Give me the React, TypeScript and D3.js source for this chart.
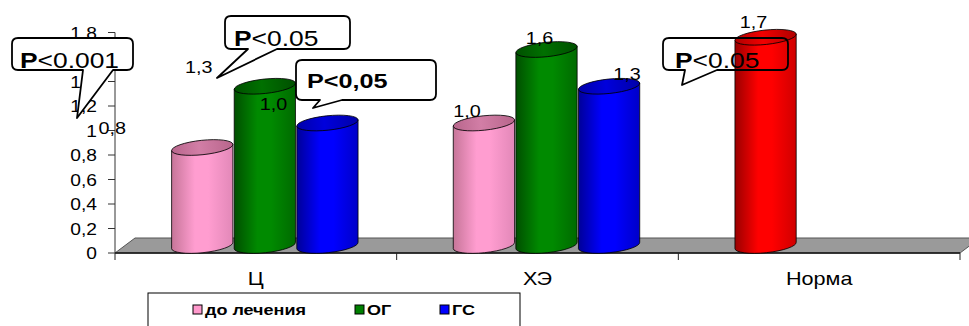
import React from "react";
import * as d3 from "d3";

// ---- data ----
const categories = ["Ц", "ХЭ", "Норма"];
const seriesNames = ["до лечения", "ОГ", "ГС"];
const beforeTreatment: (number | null)[] = [0.8, 1.0, 1.7];
const ogValues: (number | null)[] = [1.3, 1.6, null];
const gsValues: (number | null)[] = [1.0, 1.3, null];
const yTicks = [0, 0.2, 0.4, 0.6, 0.8, 1.0, 1.2, 1.4, 1.6, 1.8];
const calloutTexts = ["P<0.001", "P<0.05", "P<0,05", "P<0.05"];

const seriesValues = [beforeTreatment, ogValues, gsValues];

// ---- styling / layout ----
const W = 969;
const H = 326;
const FONT = "'Liberation Sans', Arial, sans-serif";
const SX = 1.2; // horizontal text stretch of the original picture
const DEPTH_X = 20;
const DEPTH_Y = 15;

const palettes: Record<string, { dark: string; light: string; mid: string; top: string; topDark: string }> = {
  pink: { dark: "#c67598", light: "#ff9dd0", mid: "#e288b8", top: "#d27ea6", topDark: "#b8668c" },
  green: { dark: "#004f00", light: "#008a00", mid: "#006a00", top: "#007000", topDark: "#005000" },
  blue: { dark: "#000098", light: "#0000ff", mid: "#0000c8", top: "#0000dc", topDark: "#0000a8" },
  red: { dark: "#9a0000", light: "#ff0000", mid: "#d00000", top: "#f00000", topDark: "#b00000" },
};
const seriesColors = ["pink", "green", "blue"];
const legendColors = ["#ff99cc", "#008000", "#0000ff"];
// colour overrides per category (Норма drawn red)
const pointColorOverride: (string | null)[] = [null, null, "red"];

// label offsets relative to bar-top centre [series][category] -> [dx, dy]
const labelOffsets: [number, number][][] = [
  [[-90, -14], [-17, -6], [-12, -9]],
  [[-66, -13], [-7, -6], [0, 0]],
  [[-54, -13], [18, -6], [0, 0]],
];

type Callout = { box: [number, number, number, number]; ptr: [number, number, number, number]; tx: number; ty: number; size: number; boldAll: boolean; fill: boolean };
const calloutLayout: Callout[] = [
  { box: [12, 38, 133, 70], ptr: [83, 113, 77, 118], tx: 20, ty: 68, size: 22, boldAll: false, fill: true },
  { box: [225, 16, 350, 49], ptr: [248, 277, 217, 78], tx: 234, ty: 46, size: 22, boldAll: false, fill: true },
  { box: [296, 60, 436, 100], ptr: [320, 342, 313, 108], tx: 307, ty: 88, size: 21, boldAll: true, fill: true },
  { box: [663, 38, 788, 70], ptr: [685, 717, 682, 85], tx: 675, ty: 68, size: 22, boldAll: false, fill: false },
];
const legendX = [193, 355, 440];

const fmt = (v: number) => (v === 0 ? "0" : d3.format(".1f")(v).replace(".", ",").replace(/,0$/, ""));
const fmtLabel = (v: number) => d3.format(".1f")(v).replace(".", ",");

function T(props: { x: number; y: number; anchor?: string; size: number; weight?: string | number; children: React.ReactNode; sx?: number }) {
  const { x, y, anchor = "start", size, weight = "normal", children, sx = SX } = props;
  return (
    <text
      transform={`translate(${x},${y}) scale(${sx},1)`}
      textAnchor={anchor}
      fontFamily={FONT}
      fontSize={size}
      fontWeight={weight}
      fill="#000"
    >
      {children}
    </text>
  );
}

export default function App() {
  const y = d3.scaleLinear().domain([0, 1.8]).range([253, 32.5]);
  const x = d3.scaleBand<string>().domain(categories).range([115, 960]).padding(0);
  const bw = x.bandwidth();
  const barW = bw / 4.5;
  const gapOff = barW * 0.75;
  const xSub = d3.scaleBand<number>().domain([0, 1, 2]).range([gapOff, gapOff + barW * 3]).padding(0);
  const rx = barW / 2 - 0.5;
  const ry = 7.2;
  const rot = -6;
  const rad = (rot * Math.PI) / 180;
  const ex = rx * Math.cos(rad);
  const ey = rx * Math.sin(rad);
  const axisY = y(0);
  const baseY = axisY - DEPTH_Y / 2;

  const bars: { cx: number; top: number; color: string; v: number; s: number; c: number }[] = [];
  seriesValues.forEach((vals, s) => {
    vals.forEach((v, c) => {
      if (v == null) return;
      const cx = (x(categories[c]) as number) + (xSub(s) as number) + barW / 2 + DEPTH_X / 2 - 1;
      const top = y(v) - DEPTH_Y / 2;
      bars.push({ cx, top, color: pointColorOverride[c] || seriesColors[s], v, s, c });
    });
  });

  const axisX0 = x.range()[0];
  const axisX1 = x.range()[1];
  const xTickPos = [...categories.map((c) => x(c) as number), axisX1];

  return (
    <svg width={W} height={H} style={{ position: "absolute", left: 0, top: 0, background: "#fff" }}>
      <defs>
        {Object.entries(palettes).map(([k, p]) => (
          <React.Fragment key={k}>
            <linearGradient id={`body-${k}`} x1="0" x2="1" y1="0" y2="0">
              <stop offset="0" stopColor={p.dark} />
              <stop offset="0.38" stopColor={p.light} />
              <stop offset="0.6" stopColor={p.light} />
              <stop offset="1" stopColor={p.mid} />
            </linearGradient>
            <linearGradient id={`top-${k}`} x1="0" x2="1" y1="0" y2="0">
              <stop offset="0" stopColor={p.topDark} />
              <stop offset="0.45" stopColor={p.top} />
              <stop offset="1" stopColor={p.topDark} />
            </linearGradient>
          </React.Fragment>
        ))}
      </defs>

      {/* floor */}
      <path
        d={`M${axisX0},${axisY} L${axisX0 + DEPTH_X},${axisY - DEPTH_Y} L${axisX1 + DEPTH_X},${axisY - DEPTH_Y} L${axisX1},${axisY} Z`}
        fill="#9a9a9a"
        stroke="#555"
        strokeWidth={1}
      />
      <line x1={axisX0} x2={axisX1} y1={axisY} y2={axisY} stroke="#111" strokeWidth={1.5} />
      {xTickPos.map((p, i) => (
        <line key={i} x1={p} x2={p} y1={axisY} y2={axisY + 7} stroke="#222" strokeWidth={1} />
      ))}

      {/* y axis */}
      <line x1={axisX0} x2={axisX0} y1={y(1.8)} y2={axisY} stroke="#333" strokeWidth={1} />
      {yTicks.map((t) => (
        <line key={t} x1={axisX0 - 7} x2={axisX0} y1={y(t)} y2={y(t)} stroke="#333" strokeWidth={1} />
      ))}
      {yTicks.map((t) => (
        <T key={t} x={97} y={y(t) + 6} anchor="end" size={16}>
          {fmt(t)}
        </T>
      ))}

      {/* bars */}
      {bars.map((b, i) => {
        const by = baseY;
        const body = `M${b.cx - ex},${b.top - ey} L${b.cx - ex},${by - ey} A${rx},${ry} ${rot} 0 0 ${b.cx + ex},${by + ey} L${b.cx + ex},${b.top + ey} Z`;
        return (
          <g key={i}>
            <path d={body} fill={`url(#body-${b.color})`} stroke="#000" strokeWidth={0.8} />
            <ellipse
              cx={b.cx}
              cy={b.top}
              rx={rx}
              ry={ry}
              transform={`rotate(${rot},${b.cx},${b.top})`}
              fill={`url(#top-${b.color})`}
              stroke="#000"
              strokeWidth={0.8}
            />
          </g>
        );
      })}

      {/* category labels */}
      {categories.map((c) => (
        <T key={c} x={(x(c) as number) + bw / 2} y={285} anchor="middle" size={18}>
          {c}
        </T>
      ))}

      {/* data labels */}
      {bars.map((b, i) => {
        const [dx, dy] = labelOffsets[b.s][b.c];
        return (
          <T key={i} x={b.cx + dx} y={b.top + dy} anchor="middle" size={16.5}>
            {fmtLabel(b.v)}
          </T>
        );
      })}

      {/* callouts */}
      {calloutLayout.map((cl, i) => {
        const [x0, y0, x1, y1] = cl.box;
        const [p0, p1, tx, ty] = cl.ptr;
        const r = 6;
        const outline = `M${p1},${y1} L${x1 - r},${y1} Q${x1},${y1} ${x1},${y1 - r} L${x1},${y0 + r} Q${x1},${y0} ${x1 - r},${y0} L${x0 + r},${y0} Q${x0},${y0} ${x0},${y0 + r} L${x0},${y1 - r} Q${x0},${y1} ${x0 + r},${y1} L${p0},${y1} L${tx},${ty} Z`;
        const txt = calloutTexts[i];
        return (
          <g key={i}>
            <path d={outline} fill={cl.fill ? "#fff" : "none"} stroke="#000" strokeWidth={1.8} strokeLinejoin="round" />
            <text
              transform={`translate(${cl.tx},${cl.ty}) scale(${SX},1)`}
              fontFamily={FONT}
              fontSize={cl.size}
              fill="#000"
            >
              <tspan fontWeight="bold">{txt.slice(0, 1)}</tspan>
              <tspan fontWeight={cl.boldAll ? "bold" : "normal"}>{txt.slice(1)}</tspan>
            </text>
          </g>
        );
      })}

      {/* legend */}
      <rect x={148} y={293} width={372} height={60} fill="#fff" stroke="#000" strokeWidth={1} />
      {seriesNames.map((n, i) => {
        const lx = legendX[i];
        return (
          <g key={n}>
            <rect x={lx} y={305} width={9} height={9} fill={legendColors[i]} stroke="#000" strokeWidth={1} />
            <T x={lx + 12} y={315} size={15} weight="bold">
              {n}
            </T>
          </g>
        );
      })}
    </svg>
  );
}
